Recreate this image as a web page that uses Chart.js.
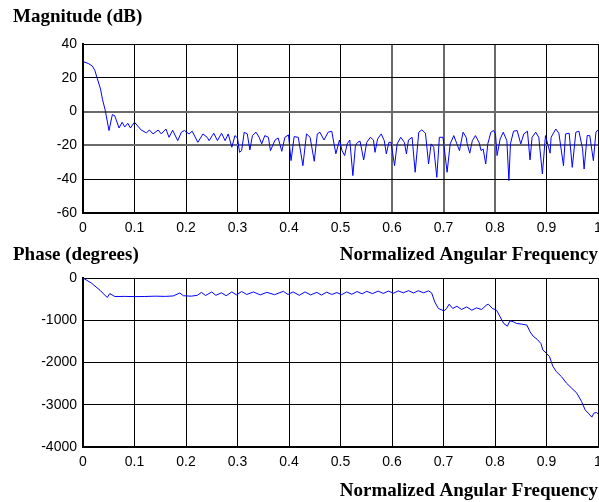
<!DOCTYPE html>
<html>
<head>
<meta charset="utf-8">
<script src="https://cdn.jsdelivr.net/npm/chart.js@4/dist/chart.umd.min.js"></script>
<style>
html,body{margin:0;padding:0;background:#fff;}
#wrap{position:relative;width:599px;height:502px;overflow:hidden;background:#fff;}
canvas{position:absolute;left:0;}
#c1{top:0;}
#c2{top:232px;}
</style>
</head>
<body>
<div id="wrap">
<canvas id="c1" width="599" height="266"></canvas>
<canvas id="c2" width="599" height="270"></canvas>
</div>
<script>
// ---- data ----
const xTickLabels = ['0','0.1','0.2','0.3','0.4','0.5','0.6','0.7','0.8','0.9','1'];
const magTickLabels = ['-60','-40','-20','0','20','40'];
const phaseTickLabels = ['-4000','-3000','-2000','-1000','0'];

const magFreq = [0,0.010,0.018,0.023,0.028,0.034,0.038,0.043,0.0505,0.057,0.0615,0.070,0.076,0.081,0.087,0.092,0.100,0.113,0.123,0.129,0.136,0.146,0.152,0.161,0.167,0.174,0.184,0.191,0.197,0.206,0.212,0.223,0.233,0.241,0.245,0.251,0.254,0.261,0.269,0.276,0.282,0.289,0.295,0.300,0.304,0.308,0.313,0.319,0.324,0.329,0.336,0.342,0.347,0.353,0.360,0.364,0.373,0.379,0.386,0.392,0.399,0.404,0.410,0.418,0.427,0.434,0.441,0.449,0.455,0.460,0.468,0.476,0.483,0.491,0.498,0.503,0.508,0.513,0.518,0.524,0.529,0.533,0.538,0.545,0.551,0.558,0.564,0.567,0.572,0.579,0.585,0.589,0.594,0.598,0.605,0.610,0.617,0.624,0.628,0.632,0.639,0.645,0.652,0.658,0.665,0.671,0.676,0.681,0.687,0.692,0.699,0.707,0.713,0.720,0.726,0.731,0.738,0.744,0.746,0.751,0.756,0.762,0.769,0.773,0.777,0.782,0.786,0.792,0.797,0.801,0.804,0.810,0.816,0.823,0.827,0.830,0.836,0.843,0.850,0.856,0.863,0.868,0.872,0.879,0.885,0.892,0.898,0.907,0.909,0.918,0.924,0.933,0.937,0.944,0.950,0.957,0.963,0.970,0.973,0.979,0.984,0.991,0.996,1.0];
const magDb = [29.6,28.5,27.0,24.4,19.3,13.4,7.0,1.0,-11.2,-1.8,-2.4,-9.7,-6.3,-9.1,-6.9,-9.7,-6.3,-10.9,-12.6,-10.9,-13.2,-10.9,-13.2,-10.3,-15.2,-11.0,-17.2,-12.2,-11.2,-13.2,-11.6,-18.2,-13.2,-15.2,-17.2,-14.2,-12.8,-17.2,-12.8,-17.2,-13.2,-21.1,-14.2,-15.6,-24.1,-23.1,-12.2,-13.2,-22.7,-14.2,-12.2,-15.2,-19.1,-14.2,-15.2,-23.1,-16.8,-15.6,-23.5,-15.2,-13.8,-29.0,-14.8,-15.2,-32.0,-13.2,-15.2,-29.4,-13.2,-12.2,-16.8,-12.2,-11.6,-25.0,-16.8,-23.1,-26.0,-19.1,-16.8,-37.9,-20.1,-18.2,-17.5,-28.6,-18.2,-15.2,-16.8,-24.1,-16.2,-13.2,-17.2,-25.0,-18.2,-18.2,-32.0,-19.1,-15.2,-18.2,-25.0,-16.8,-15.2,-35.9,-12.2,-10.8,-12.8,-31.0,-19.1,-21.1,-38.9,-15.2,-15.2,-35.9,-19.1,-14.2,-19.1,-23.1,-12.2,-15.2,-19.1,-24.6,-17.2,-14.2,-18.2,-23.1,-22.1,-31.0,-19.1,-12.2,-11.2,-13.2,-26.0,-16.2,-12.2,-17.2,-40.8,-19.1,-11.6,-11.2,-19.1,-13.2,-11.6,-28.6,-15.2,-12.2,-15.2,-36.9,-14.2,-24.6,-15.2,-10.3,-12.8,-32.0,-13.2,-12.8,-33.0,-12.2,-11.6,-22.0,-34.0,-14.2,-14.2,-29.0,-12.2,-10.8];

const phaseFreq = [0,0.016,0.033,0.047,0.052,0.062,0.080,0.100,0.120,0.140,0.160,0.175,0.188,0.195,0.210,0.222,0.230,0.238,0.250,0.258,0.269,0.278,0.289,0.298,0.308,0.318,0.331,0.344,0.357,0.372,0.389,0.398,0.408,0.420,0.431,0.442,0.454,0.463,0.473,0.483,0.493,0.502,0.512,0.522,0.532,0.542,0.551,0.562,0.573,0.583,0.593,0.603,0.612,0.622,0.632,0.642,0.651,0.661,0.671,0.677,0.683,0.690,0.701,0.706,0.711,0.718,0.726,0.735,0.745,0.755,0.764,0.774,0.783,0.787,0.795,0.803,0.810,0.817,0.824,0.829,0.836,0.842,0.852,0.862,0.868,0.874,0.882,0.889,0.893,0.900,0.906,0.912,0.919,0.929,0.939,0.949,0.959,0.968,0.975,0.981,0.988,0.992,0.997,1.0];
const phaseDeg = [0,-118,-290,-462,-368,-440,-435,-440,-438,-430,-435,-425,-355,-420,-430,-410,-340,-415,-330,-410,-350,-420,-330,-400,-320,-390,-330,-400,-340,-395,-315,-390,-330,-410,-330,-400,-340,-405,-335,-390,-345,-395,-330,-385,-320,-375,-315,-370,-310,-365,-310,-360,-305,-350,-300,-355,-300,-350,-305,-353,-566,-722,-778,-722,-620,-722,-668,-745,-684,-762,-707,-745,-644,-620,-722,-762,-920,-1077,-1140,-1014,-1037,-1077,-1092,-1115,-1273,-1375,-1453,-1548,-1705,-1784,-1862,-2082,-2216,-2334,-2491,-2609,-2727,-2923,-3120,-3199,-3293,-3199,-3183,-3215];

// ---- styling helpers ----
const tickFont = {family:'"Liberation Sans", Arial, sans-serif', size:14};
const titleFont = {family:'"Liberation Serif", "Times New Roman", serif', size:19, weight:'bold'};
const grayMagY = [0,-20];
const grayX = [0.6,0.7,0.8];

function near(v, list){ return list.some(g => Math.abs(g - v) < 1e-6); }

function makeChart(id, opts){
  const pts = opts.xs.map((x,i)=>({x:x, y:opts.ys[i]}));
  return new Chart(document.getElementById(id), {
    type:'line',
    data:{datasets:[{data:pts, borderColor:'#0000ff', borderWidth:1, pointRadius:0, tension:0, fill:false}]},
    options:{
      responsive:false, animation:false, devicePixelRatio:1,
      layout:{padding:{left:13, right:1, top:opts.padTop, bottom:0}},
      plugins:{
        legend:{display:false}, tooltip:{enabled:false},
        title:{display:true, text:opts.title, align:'start', color:'#000', font:titleFont, padding:{top:0,bottom:opts.titleGap}}
      },
      scales:{
        x:{
          type:'linear', min:0, max:1,
          ticks:{stepSize:0.1, color:'#000', font:tickFont, padding:7, maxRotation:0, autoSkip:false,
                 callback:(v,i)=>xTickLabels[i]},
          grid:{drawTicks:false, color:c=>near(c.tick && c.tick.value, opts.grayX)?'#6a6a6a':'#000',
                lineWidth:c=>near(c.tick && c.tick.value, opts.grayX)?2:1},
          border:{color:'#000', width:2},
          title:{display:true, text:'Normalized Angular Frequency', align:'end', color:'#000', font:titleFont, padding:0},
          afterFit:s=>{ s.height = opts.xHeight; s.paddingLeft = 0; s.paddingRight = 0; }
        },
        y:{
          min:opts.ymin, max:opts.ymax,
          ticks:{stepSize:opts.ystep, color:'#000', font:tickFont, padding:6, autoSkip:false,
                 callback:(v,i)=>opts.yLabels[i]},
          grid:{drawTicks:false, color:c=>near(c.tick && c.tick.value, opts.grayY)?'#6a6a6a':'#000',
                lineWidth:c=>near(c.tick && c.tick.value, opts.grayY)?2:1},
          border:{color:'#000', width:2},
          afterFit:s=>{ s.width = 70; }
        }
      }
    }
  });
}

makeChart('c1', {xs:magFreq, ys:magDb, title:'Magnitude (dB)', padTop:6, titleGap:15.2, xHeight:53,
  ymin:-60, ymax:40, ystep:20, yLabels:magTickLabels, grayY:grayMagY, grayX:grayX});
makeChart('c2', {xs:phaseFreq, ys:phaseDeg, title:'Phase (degrees)', padTop:12, titleGap:11.2, xHeight:55,
  ymin:-4000, ymax:0, ystep:1000, yLabels:phaseTickLabels, grayY:[], grayX:[]});
</script>
</body>
</html>
